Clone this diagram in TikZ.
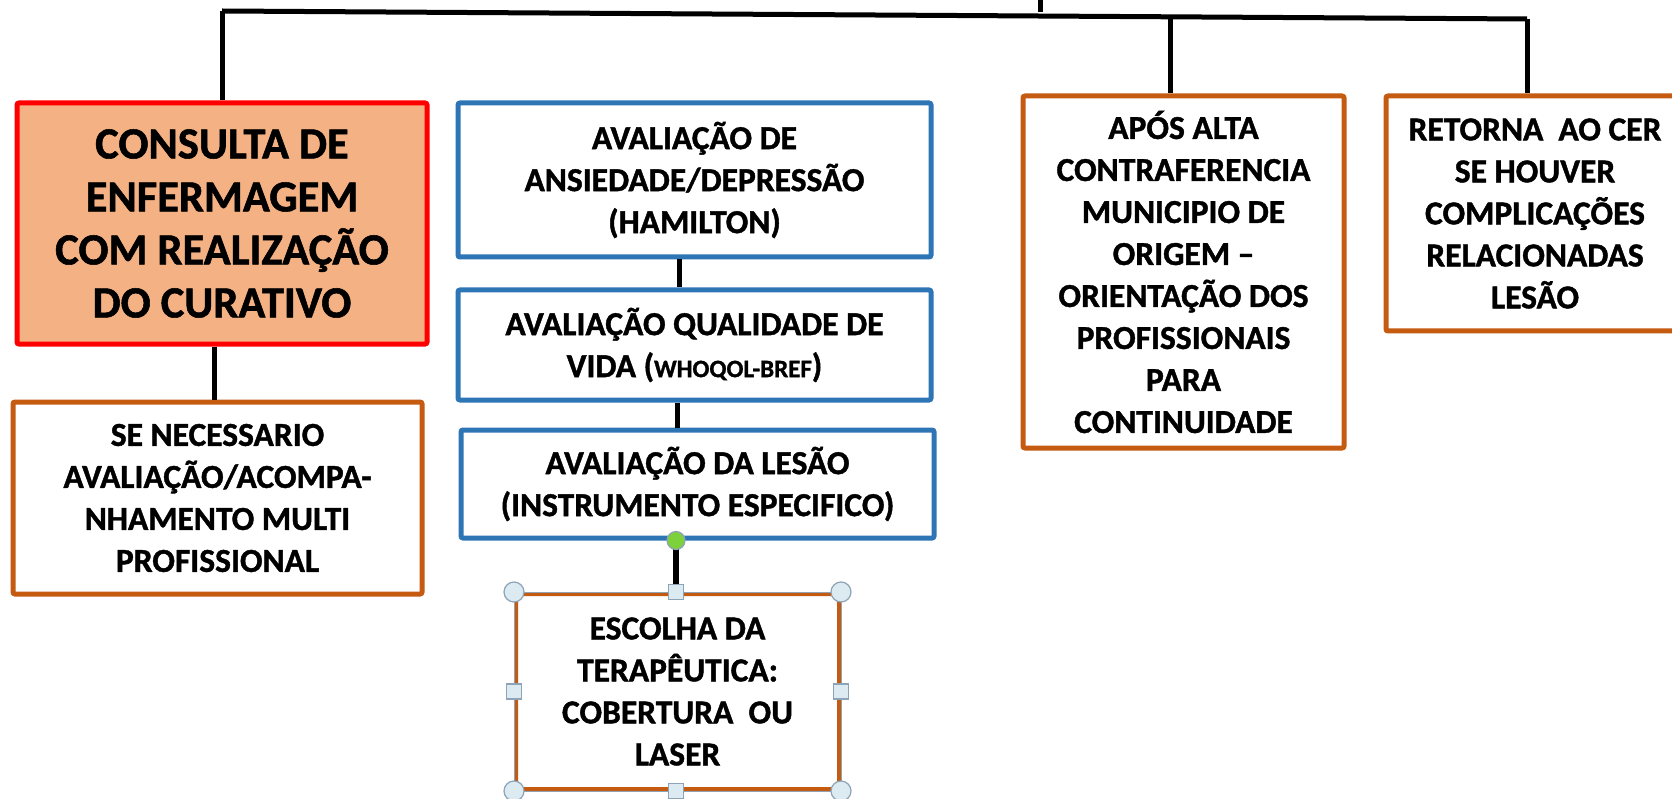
\documentclass[tikz,border=0pt]{standalone}
\usepackage{fontspec}
\setmainfont{Carlito}[BoldFeatures={FakeBold=1.2}]
\definecolor{obord}{HTML}{C55A11}
\definecolor{bbord}{HTML}{2E75B6}
\definecolor{ofill}{HTML}{F4B183}
\definecolor{hfill}{HTML}{DCEBF2}
\definecolor{hdraw}{HTML}{8EA3B5}
\definecolor{gfill}{HTML}{7DD13B}
\tikzset{
  box/.style={draw, rectangle, rounded corners=2pt, line width=5pt, align=center, fill=white,
    font=\bfseries\fontsize{33.5}{42}\selectfont, inner sep=0pt},
  obox/.style={box, draw=obord},
  bbox/.style={box, draw=bbord},
  rbox/.style={box, draw=red, fill=ofill, font=\bfseries\fontsize{44.5}{53}\selectfont},
  conn/.style={line width=5pt, black},
  hcirc/.style={circle, draw=hdraw, fill=hfill, line width=1.2pt, minimum size=20pt, inner sep=0pt},
  hsq/.style={rectangle, draw=hdraw, fill=hfill, line width=1.2pt, minimum size=15pt, inner sep=0pt},
}
\begin{document}
\begin{tikzpicture}[x=1pt,y=-1pt]
\useasboundingbox (0,0) rectangle (1672,799);
\clip (0,0) rectangle (1672,799);
\fill[white] (0,0) rectangle (1672,799);
% nodes
\node[rbox, minimum width=410pt, minimum height=241pt] (b1) at (222,223.5)
  {CONSULTA DE\\ENFERMAGEM\\COM REALIZAÇÃO\\DO CURATIVO};
\node[obox, minimum width=409pt, minimum height=192pt] (b2) at (217.5,498)
  {SE NECESSARIO\\AVALIAÇÃO/ACOMPA-\\NHAMENTO MULTI\\PROFISSIONAL};
\node[bbox, minimum width=473pt, minimum height=154pt] (ba) at (694.5,180)
  {AVALIAÇÃO DE\\ANSIEDADE/DEPRESSÃO\\(HAMILTON)};
\node[bbox, minimum width=473pt, minimum height=110pt] (bb) at (694.5,345)
  {AVALIAÇÃO QUALIDADE DE\\VIDA ({\fontsize{25}{42}\selectfont WHOQOL-BREF})};
\node[bbox, minimum width=473pt, minimum height=108pt] (bc) at (697.5,484)
  {AVALIAÇÃO DA LESÃO\\(INSTRUMENTO ESPECIFICO)};
\node[obox, line width=4pt, minimum width=323pt, minimum height=195pt] (bd) at (677.5,691.5)
  {ESCOLHA DA\\TERAPÊUTICA:\\COBERTURA\ \ OU\\LASER};
\node[obox, minimum width=321pt, minimum height=352pt] (be) at (1183.5,272)
  {APÓS ALTA\\CONTRAFERENCIA\\MUNICIPIO DE\\ORIGEM –\\ORIENTAÇÃO DOS\\PROFISSIONAIS\\PARA\\CONTINUIDADE};
\node[obox, minimum width=298pt, minimum height=235pt] (bf) at (1535,213.5)
  {RETORNA\ \ AO CER\\SE HOUVER\\COMPLICAÇÕES\\RELACIONADAS\\LESÃO};
% connector coordinates
\coordinate (tl) at (222,11);
\coordinate (tr) at (1527,19);
\coordinate (te) at (1170,17);
\coordinate (stub) at (1040,12);
% top bar and drops
\draw[conn] (tl) -- (tr);
\draw[conn] (stub) -- (stub |- 0,0);
\draw[conn] (b1.north) -- (tl);
\draw[conn] (te) -- (te |- be.north);
\draw[conn] (tr) -- (tr |- bf.north);
% vertical links
\draw[conn] (b1.south -| 214,0) -- (b2.north -| 214,0);
\draw[conn] (ba.south -| 679,0) -- (bb.north -| 679,0);
\draw[conn] (bb.south -| 677,0) -- (bc.north -| 677,0);
\draw[line width=6pt] (bc.south -| 676,0) -- (bd.north -| 676,0);
% selection outline and handles for bd
\draw[hdraw, line width=1pt] (bd.north west) rectangle (bd.south east);
\node[hcirc] (h1) at (bd.north west) {};
\node[hcirc] (h2) at (bd.north east) {};
\node[hcirc] (h3) at (bd.south west) {};
\node[hcirc] (h4) at (bd.south east) {};
\node[hsq] (h5) at (bd.north -| 676,0) {};
\node[hsq] (h6) at (bd.south -| 676,0) {};
\node[hsq] (h7) at (bd.west) {};
\node[hsq] (h8) at (bd.east) {};
\node[circle, draw=hdraw, fill=gfill, line width=1.2pt, minimum size=18pt, inner sep=0pt] (hg) at (bc.south -| 676,0) {};
\end{tikzpicture}
\end{document}
